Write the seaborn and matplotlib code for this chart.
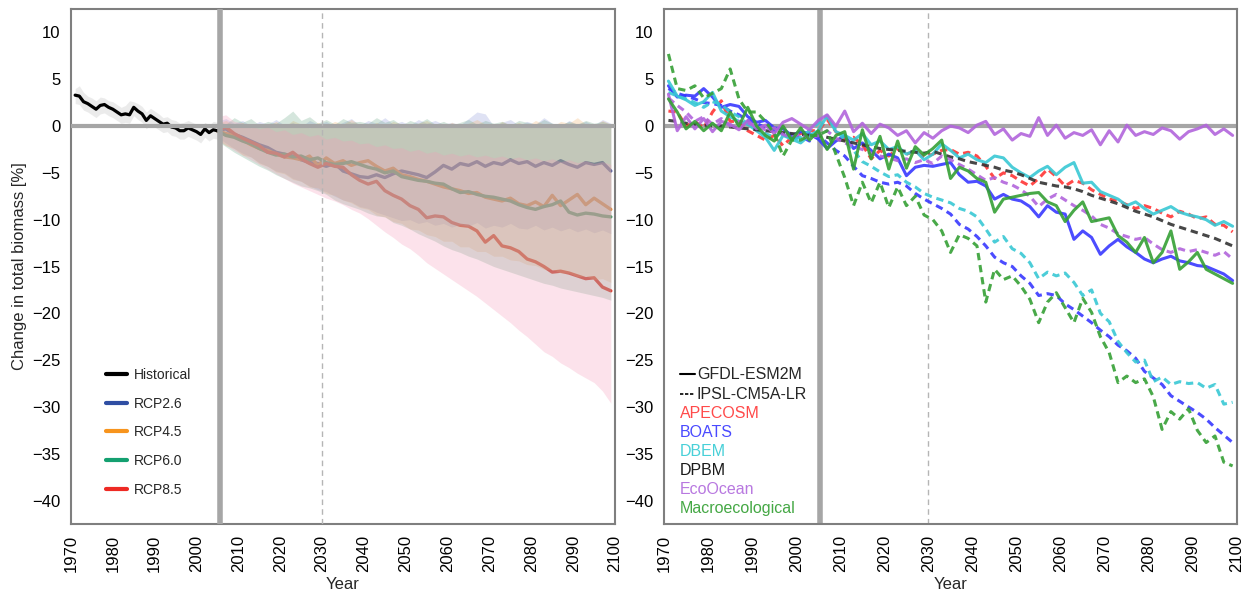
import numpy as np
import pandas as pd
import matplotlib
matplotlib.use("Agg")
import matplotlib.pyplot as plt
from matplotlib.lines import Line2D
import seaborn as sns

# --- LEFT PANEL: historical run + RCP scenario means and model ranges ---
HIST_YEARS = list(range(1971, 2006))
HIST = [3.3, 3.2, 2.6, 2.4, 2.1, 1.8, 2.2, 2.3, 2.0, 1.8,
        1.5, 1.2, 1.3, 1.2, 2.0, 1.6, 1.3, 0.6, 1.1, 0.8,
        0.5, 0.2, 0.3, -0.1, -0.2, -0.5, -0.5, -0.2, -0.4, -0.6,
        -0.9, -0.3, -0.7, -0.4, -0.5]
HIST_UP = [4.0, 4.3, 3.6, 3.2, 3.0, 2.7, 3.1, 3.0, 2.7, 2.6,
           2.3, 2.0, 2.2, 2.7, 2.6, 2.4, 2.1, 1.5, 1.9, 1.6,
           1.3, 0.9, 1.0, 0.7, 0.6, 0.3, 0.4, 0.6, 0.4, 0.2,
           -0.1, 0.4, 0.1, 0.5, 0.4]
HIST_LO = [2.4, 2.3, 1.7, 1.5, 1.2, 0.9, 1.3, 1.4, 1.1, 0.9,
           0.6, 0.3, 0.4, 0.3, 1.1, 0.7, 0.4, -0.3, 0.2, -0.1,
           -0.4, -0.7, -0.6, -1.0, -1.1, -1.4, -1.4, -1.1, -1.3, -1.5,
           -1.8, -1.2, -1.6, -1.3, -1.4]

RCP_YEARS = list(range(2005, 2100, 2))
SCENARIOS = ["RCP2.6", "RCP4.5", "RCP6.0", "RCP8.5"]

RCP26 = [-0.5, -0.3, -0.9, -1.2, -1.6, -2.0, -2.3, -2.8, -3.0, -3.2,
         -3.6, -3.9, -4.0, -4.3, -4.0, -4.8, -5.1, -5.4, -5.5, -5.2,
         -5.5, -5.1, -4.8, -5.0, -5.2, -5.5, -4.9, -4.2, -4.6, -4.0,
         -4.2, -3.8, -4.3, -3.9, -4.1, -3.6, -4.0, -3.8, -4.3, -3.9,
         -4.2, -3.7, -4.1, -4.4, -3.9, -4.1, -3.9, -4.8]
RCP45 = [-0.5, -0.8, -1.0, -1.5, -2.0, -2.4, -2.6, -3.0, -3.3, -3.4,
         -3.6, -3.2, -4.2, -3.4, -4.0, -3.7, -4.2, -3.9, -3.7, -4.3,
         -4.8, -4.5, -5.2, -5.4, -5.7, -5.9, -6.2, -6.5, -6.7, -6.9,
         -7.2, -7.1, -7.6, -7.8, -8.0, -7.7, -8.3, -8.5, -8.1, -8.6,
         -7.4, -8.5, -7.9, -7.3, -8.4, -7.7, -8.3, -8.9]
RCP60 = [-0.5, -1.0, -1.2, -1.6, -1.9, -2.4, -2.8, -3.1, -3.0, -3.3,
         -3.2, -3.6, -3.4, -3.9, -4.1, -4.0, -3.8, -4.1, -4.4, -4.6,
         -5.0, -4.8, -5.4, -5.6, -5.8, -5.9, -6.1, -6.2, -6.7, -7.1,
         -7.0, -7.3, -7.5, -7.6, -7.8, -8.0, -8.4, -8.7, -8.9, -8.6,
         -8.4, -8.0, -9.2, -9.5, -9.3, -9.4, -9.6, -9.7]
RCP85 = [-0.5, -0.1, -0.8, -1.3, -1.7, -2.1, -2.8, -2.9, -3.3, -2.8,
         -3.5, -4.0, -4.4, -4.0, -4.3, -4.4, -5.2, -5.8, -6.2, -5.9,
         -6.9, -7.4, -7.8, -8.5, -8.9, -9.8, -9.6, -9.7, -10.3, -10.6,
         -10.7, -11.2, -12.4, -11.7, -12.8, -13.0, -13.4, -14.2, -14.5, -15.0,
         -15.6, -15.5, -15.7, -16.0, -16.3, -16.2, -17.2, -17.6]

RCP26_UP = [0.5, 0.8, 0.3, 0.6, 0.0, 0.5, 0.2, 0.7, 0.1, 0.4,
            -0.1, 0.6, 0.2, 0.5, 0.0, 0.4, 0.8, 0.1, 0.6, 0.3,
            0.9, 0.2, 0.5, 0.1, 0.7, 0.3, 0.6, 0.2, 0.4, 0.1,
            0.8, 1.5, 1.3, 0.0, 0.4, 0.7, 0.1, 0.5, 0.2, 0.9,
            0.3, 0.0, 0.6, 0.2, 0.5, 0.1, 0.7, 0.3]
RCP26_LO = [-1.2, -1.8, -2.4, -2.9, -3.3, -3.9, -4.3, -4.8, -5.0, -5.6,
            -5.9, -6.4, -6.8, -7.0, -7.5, -7.9, -8.1, -8.6, -8.8, -9.2,
            -9.5, -9.8, -10.1, -10.0, -10.4, -10.2, -10.6, -10.4, -10.8, -10.5,
            -10.7, -10.3, -10.9, -10.6, -10.8, -10.4, -10.9, -11.0, -10.6, -11.1,
            -10.8, -11.2, -10.9, -11.3, -11.0, -11.4, -11.1, -11.5]
RCP45_UP = [0.3, 0.6, 0.1, 0.4, -0.2, 0.3, 0.0, 0.5, -0.1, 0.6,
            0.2, -0.2, 0.4, 0.0, 0.5, 0.2, 0.7, 0.1, -0.1, 0.4,
            0.0, 0.5, 0.2, -0.2, 0.3, 0.6, 0.1, -0.1, 0.4, 0.0,
            0.3, 0.7, 0.2, -0.1, 0.5, 0.1, 0.4, 0.0, 0.6, 0.2,
            -0.1, 0.5, 0.3, 0.9, 0.2, 0.0, 0.6, 0.2]
RCP45_LO = [-1.5, -2.1, -2.4, -3.1, -3.3, -4.0, -4.3, -4.9, -5.1, -5.7,
            -5.9, -6.5, -6.6, -7.2, -7.4, -7.9, -8.2, -8.7, -8.9, -9.5,
            -9.7, -10.2, -10.4, -11.0, -11.1, -11.6, -11.8, -12.3, -12.3, -12.9,
            -12.9, -13.4, -13.4, -13.9, -13.9, -14.3, -14.4, -14.8, -14.9, -15.3,
            -15.3, -15.7, -15.7, -16.1, -16.0, -16.4, -16.3, -16.7]
RCP60_UP = [0.6, 0.2, 0.9, 0.4, 0.8, 0.1, 0.5, 0.3, 0.9, 1.6,
            0.6, 1.0, 0.3, 0.7, 0.2, 0.8, 0.4, 0.5, 0.3, 0.9,
            0.4, 0.7, 0.1, 0.6, 0.3, 0.8, 0.2, 0.5, 0.1, 0.4,
            0.7, 0.2, 0.6, 0.3, 0.5, 0.1, 0.6, 0.4, 0.2, 0.7,
            0.3, 0.1, 0.5, 0.2, 0.6, 0.3, 0.5, 0.2]
RCP60_LO = [-1.6, -2.2, -2.8, -3.3, -3.8, -4.3, -4.7, -5.2, -5.6, -6.0,
            -6.4, -6.6, -6.9, -7.3, -7.9, -8.3, -8.6, -8.9, -9.3, -9.6,
            -9.7, -10.3, -10.6, -11.0, -11.5, -11.9, -12.3, -12.8, -13.2, -13.5,
            -13.9, -14.2, -14.6, -15.0, -15.3, -15.6, -15.9, -16.2, -16.5, -16.8,
            -17.0, -17.3, -17.5, -17.7, -17.9, -18.1, -18.3, -18.6]
RCP85_UP = [1.0, 1.2, 0.5, 0.3, 0.0, -0.3, -0.1, -0.6, -0.4, -0.9,
            -0.7, -1.1, -0.9, -1.4, -1.2, -1.6, -1.5, -1.9, -1.8, -2.2,
            -2.0, -2.4, -2.3, -2.7, -2.5, -2.9, -2.7, -3.1, -2.9, -3.2,
            -3.0, -3.3, -3.1, -3.4, -3.2, -3.5, -3.3, -3.6, -3.4, -3.7,
            -3.5, -3.8, -3.6, -3.9, -3.7, -4.0, -3.8, -4.1]
RCP85_LO = [-1.5, -2.0, -2.6, -3.1, -3.6, -4.1, -4.6, -5.1, -5.6, -6.1,
            -6.5, -6.9, -7.3, -7.7, -8.0, -8.4, -8.9, -9.3, -9.9, -10.6,
            -11.3, -11.9, -12.6, -13.1, -13.8, -14.6, -15.2, -15.8, -16.4, -17.0,
            -17.6, -18.2, -18.9, -19.6, -20.3, -21.0, -21.8, -22.5, -23.3, -24.1,
            -24.6, -25.3, -25.8, -26.4, -26.9, -27.4, -28.3, -29.6]

# --- RIGHT PANEL: individual ecosystem models under two earth system models ---
MODEL_YEARS = list(range(1971, 2100, 2))

ECOOCEAN_GFDL = [3.4, -0.5, 1.0, -0.3, 0.8, -0.6, 0.5, 0.2, -0.4, 0.6,
                 -0.3, 0.1, -0.8, 0.4, 0.8, 0.2, -0.4, 0.6, 1.2, 0.0,
                 1.6, -0.6, 0.3, -0.8, 0.2, -0.2, -1.0, -0.5, -1.8, -0.7,
                 -1.3, -0.5, 0.0, -0.2, -0.7, 0.1, 0.5, -0.9, -0.3, -1.5,
                 -0.8, -1.1, 0.9, -1.0, 0.1, -1.3, -0.7, -1.0, -0.4, -2.0,
                 -0.5, -1.7, 0.1, -1.0, -0.6, -0.9, -0.2, -0.5, -1.4, -0.6,
                 -0.3, 0.1, -0.9, -0.3, -1.0]
ECOOCEAN_IPSL = [3.0, 2.2, 1.5, 0.5, 1.0, 0.2, 0.8, 0.0, 0.5, 0.3,
                 0.0, -0.4, -0.2, -0.9, -1.2, -0.8, -1.4, -1.0, -0.5, -1.3,
                 -1.8, -2.2, -2.5, -2.9, -3.2, -3.4, -3.7, -3.5, -3.9, -3.6,
                 -4.0, -3.2, -3.6, -4.1, -4.6, -5.2, -5.8, -5.5, -6.0, -6.3,
                 -6.8, -7.5, -8.6, -7.8, -7.3, -7.9, -8.5, -9.0, -9.6, -10.5,
                 -10.9, -11.5, -11.8, -12.1, -11.9, -12.6, -13.2, -13.5, -13.1, -13.4,
                 -13.2, -13.5, -13.8, -13.4, -14.2]
DBEM_GFDL = [4.8, 3.2, 2.8, 2.2, 2.6, 3.6, 1.6, 1.0, 0.5, 0.2,
             -0.5, -1.2, -2.6, -1.0, -1.4, -1.8, -1.0, -0.5, 1.1, -0.6,
             -1.0, -1.5, -0.8, -2.0, -1.6, -2.5, -2.2, -3.0, -2.6, -3.6,
             -3.0, -1.9, -2.6, -3.4, -3.0, -3.6, -3.9, -3.2, -3.4, -4.4,
             -5.0, -5.5, -4.8, -4.3, -5.2, -4.4, -3.9, -6.1, -6.0, -7.0,
             -7.4, -7.8, -8.5, -8.1, -8.8, -9.4, -9.0, -8.6, -9.2, -9.5,
             -9.7, -10.0, -10.6, -10.2, -10.7]
DBEM_IPSL = [3.6, 3.2, 2.9, 2.5, 2.0, 2.6, 2.3, 1.5, 1.0, 0.2,
             -0.2, -0.8, -1.2, -0.6, -1.5, -1.2, -0.5, 0.3, 1.1, -0.4,
             -1.5, -2.6, -3.8, -4.3, -4.9, -5.4, -5.2, -6.0, -6.5, -7.2,
             -7.6, -7.9, -8.2, -8.8, -9.1, -9.7, -11.0, -12.4, -11.8, -13.1,
             -13.6, -14.6, -16.3, -15.6, -16.0, -15.7, -16.7, -18.1, -17.5, -20.0,
             -20.9, -23.0, -24.2, -25.2, -25.0, -27.3, -26.8, -27.6, -27.3, -27.5,
             -27.4, -28.0, -27.6, -29.7, -29.5]
BOATS_GFDL = [4.3, 3.1, 3.3, 3.2, 4.0, 3.1, 2.0, 2.3, 2.1, 1.0,
              0.4, 0.6, -0.2, -0.3, -1.0, -0.6, -0.8, -1.4, -2.4, -1.6,
              -1.0, -2.4, -1.8, -2.6, -3.5, -3.0, -3.4, -5.3, -4.4, -4.2,
              -4.3, -4.1, -3.9, -5.2, -6.0, -5.9, -6.4, -7.8, -7.3, -7.8,
              -8.0, -8.6, -9.7, -8.5, -9.2, -9.4, -12.1, -11.2, -11.9, -13.7,
              -12.8, -12.1, -12.9, -13.5, -14.2, -14.6, -14.2, -13.9, -14.4, -14.6,
              -14.9, -15.0, -15.4, -15.8, -16.5]
BOATS_IPSL = [4.0, 3.5, 3.2, 2.9, 2.5, 2.4, 2.2, 1.6, 1.2, 0.6,
              0.3, -0.2, -0.5, -0.9, -1.3, -1.1, -1.6, -1.0, -1.8, -2.6,
              -3.2, -4.3, -5.3, -5.6, -6.0, -6.2, -6.0, -6.4, -7.2, -7.8,
              -8.3, -8.8, -9.4, -10.5, -11.0, -11.8, -12.8, -14.0, -14.6, -15.0,
              -16.0, -16.8, -18.1, -17.9, -18.1, -19.0, -19.6, -20.3, -21.0, -21.8,
              -22.5, -23.4, -24.0, -24.8, -26.2, -26.9, -27.6, -28.8, -29.4, -30.0,
              -30.6, -31.3, -32.2, -33.0, -33.8]
MACRO_GFDL = [2.9, 1.5, -0.3, 0.5, -0.5, 0.3, -0.5, 1.5, 0.0, 2.0,
              0.0, -1.0, -1.6, 0.0, -1.5, -0.2, -1.5, -0.5, -2.5, -1.0,
              -0.6, -4.6, -0.4, -3.5, -1.1, -4.6, -1.6, -4.5, -2.2, -3.1,
              -2.4, -1.5, -5.6, -4.4, -4.8, -5.6, -6.0, -9.2, -7.8, -7.6,
              -7.4, -7.2, -7.1, -8.1, -8.5, -10.2, -9.0, -8.1, -10.2, -10.0,
              -9.8, -11.7, -12.4, -13.5, -11.9, -14.6, -13.5, -11.2, -15.3, -14.5,
              -13.5, -15.3, -15.8, -16.3, -16.8]
MACRO_IPSL = [7.7, 4.0, 3.8, 4.3, 3.0, 3.5, 4.0, 6.1, 2.9, 1.5,
              1.5, 0.5, -0.8, -3.2, -1.5, -1.5, -1.0, -1.0, -0.5, -3.0,
              -5.5, -8.5, -6.0, -8.2, -6.0, -8.7, -6.5, -8.5, -7.5, -9.5,
              -10.0, -11.2, -13.5, -11.6, -12.0, -12.8, -18.8, -15.3, -16.4, -16.0,
              -17.1, -18.5, -21.0, -18.8, -17.8, -19.4, -21.0, -18.4, -19.9, -22.5,
              -24.2, -27.4, -26.7, -27.4, -27.0, -28.9, -32.4, -30.5, -31.3, -30.2,
              -32.5, -33.8, -33.1, -35.9, -36.3]
APECOSM_IPSL = [1.6, 1.5, 0.0, 0.5, -0.2, 1.5, 2.7, 0.5, 0.5, -0.5,
                -1.0, -1.5, -1.0, -2.1, -1.2, -0.8, -0.5, -0.5, 0.7, -0.6,
                -1.5, -1.2, -2.0, -3.5, -2.6, -3.2, -2.4, -3.0, -2.7, -3.3,
                -3.0, -2.6, -2.5, -3.0, -2.8, -3.2, -4.3, -5.6, -5.0, -5.3,
                -5.9, -6.4, -5.6, -4.6, -5.4, -6.4, -5.8, -6.1, -6.8, -7.3,
                -7.8, -8.0, -8.4, -8.8, -8.5, -8.8, -9.3, -9.7, -9.1, -9.4,
                -9.9, -9.7, -10.5, -10.6, -11.3]
DPBM_IPSL = [0.6, 0.5, 0.3, 0.2, 0.1, 0.0, 0.0, -0.1, -0.2, -0.3,
             -0.4, -0.5, -0.6, -0.7, -0.8, -0.9, -1.0, -1.0, -1.2, -1.4,
             -1.6, -1.8, -2.0, -2.2, -2.4, -2.5, -2.6, -2.7, -2.8, -2.9,
             -2.7, -3.0, -3.3, -3.5, -3.8, -4.0, -4.2, -4.4, -4.7, -4.9,
             -5.2, -5.6, -6.0, -6.2, -6.4, -6.5, -6.7, -7.0, -7.4, -7.7,
             -8.0, -8.3, -8.7, -9.1, -9.4, -9.7, -10.1, -10.5, -10.8, -11.1,
             -11.4, -11.7, -12.0, -12.4, -12.8]

MODELS = ["APECOSM", "BOATS", "DBEM", "DPBM", "EcoOcean", "Macroecological"]
GCMS = ["GFDL-ESM2M", "IPSL-CM5A-LR"]

RCP_LINE_COLORS = {"RCP2.6": "#45519a", "RCP4.5": "#ea8530",
                   "RCP6.0": "#3d9660", "RCP8.5": "#e0392b"}
RCP_LEGEND_COLORS = {"RCP2.6": "#2f4ea3", "RCP4.5": "#f7941d",
                     "RCP6.0": "#14a070", "RCP8.5": "#ee2a24"}
RCP_BAND_COLORS = {"RCP2.6": "#8d9ad8", "RCP4.5": "#f4b36a",
                   "RCP6.0": "#6aa886", "RCP8.5": "#f59ab8"}
MODEL_COLORS = {"APECOSM": "#ff3535", "BOATS": "#3838ff", "DBEM": "#38c8d4",
                "DPBM": "#333333", "EcoOcean": "#b265dc", "Macroecological": "#35a035"}
MODEL_TEXT_COLORS = {"APECOSM": "#ff4a4a", "BOATS": "#4a4aff", "DBEM": "#48d0d8",
                     "DPBM": "#1a1a1a", "EcoOcean": "#b878e0", "Macroecological": "#45a845"}

GRID_GREY = "#a6a6a6"
SPINE_GREY = "#7f7f7f"


def long_frame(years, series, columns):
    parts = []
    for key, values in series.items():
        part = pd.DataFrame({"Year": years, "Change": values})
        for col, val in zip(columns, key if isinstance(key, tuple) else (key,)):
            part[col] = val
        parts.append(part)
    return pd.concat(parts, ignore_index=True)


def style_axes(ax):
    ax.set_xlim(1970, 2100)
    ax.set_ylim(-42.5, 12.5)
    ax.set_xticks(range(1970, 2101, 10))
    ax.set_yticks(range(-40, 11, 5))
    ax.tick_params(axis="x", rotation=90)
    ax.tick_params(colors=SPINE_GREY, labelcolor="black", labelsize=12,
                   length=4, width=1.3)
    for sp in ax.spines.values():
        sp.set_color(SPINE_GREY)
        sp.set_linewidth(1.5)
    ax.set_xlabel("Year", fontsize=12)
    ax.set_ylabel("")


def reference_lines(ax, z):
    ax.axhline(0, color=GRID_GREY, lw=3.0, zorder=z)
    ax.axvline(2005.5, color=GRID_GREY, lw=4.0, zorder=z)
    ax.axvline(2030, color="#b5b5b5", lw=1.0, ls=(0, (4, 3)), zorder=z)


def left_panel(ax):
    df = long_frame(RCP_YEARS, {"RCP2.6": RCP26, "RCP4.5": RCP45,
                                "RCP6.0": RCP60, "RCP8.5": RCP85}, ["Scenario"])
    sns.lineplot(data=df, x="Year", y="Change", hue="Scenario", palette=RCP_LINE_COLORS,
                 linewidth=2.4, errorbar=None, legend=False, ax=ax, zorder=2)

    # ranges sit on top of the means, that is how the original looks
    bands = {"RCP2.6": (RCP26_LO, RCP26_UP), "RCP4.5": (RCP45_LO, RCP45_UP),
             "RCP6.0": (RCP60_LO, RCP60_UP), "RCP8.5": (RCP85_LO, RCP85_UP)}
    for name, (lo, up) in bands.items():
        ax.fill_between(RCP_YEARS, lo, up, color=RCP_BAND_COLORS[name], alpha=0.28,
                        linewidth=0, zorder=2.5)

    ax.fill_between(HIST_YEARS, HIST_LO, HIST_UP, color="#c8c8c8", alpha=0.35,
                    linewidth=0, zorder=1.5)
    sns.lineplot(x=HIST_YEARS, y=HIST, color="black", linewidth=2.3, ax=ax, zorder=3)

    reference_lines(ax, 4)
    style_axes(ax)
    ax.set_ylabel("Change in total biomass [%]", fontsize=12)

    handles = [Line2D([0], [0], color="black", lw=3)]
    handles += [Line2D([0], [0], color=RCP_LEGEND_COLORS[s], lw=3) for s in SCENARIOS]
    ax.legend(handles, ["Historical"] + SCENARIOS, loc="upper left",
              bbox_to_anchor=(0.055, 0.314), frameon=False, fontsize=10,
              handlelength=1.5, handletextpad=0.45, labelspacing=1.06,
              borderaxespad=0)


def right_panel(ax):
    series = {("APECOSM", "IPSL-CM5A-LR"): APECOSM_IPSL,
              ("BOATS", "GFDL-ESM2M"): BOATS_GFDL,
              ("BOATS", "IPSL-CM5A-LR"): BOATS_IPSL,
              ("DBEM", "GFDL-ESM2M"): DBEM_GFDL,
              ("DBEM", "IPSL-CM5A-LR"): DBEM_IPSL,
              ("DPBM", "IPSL-CM5A-LR"): DPBM_IPSL,
              ("EcoOcean", "GFDL-ESM2M"): ECOOCEAN_GFDL,
              ("EcoOcean", "IPSL-CM5A-LR"): ECOOCEAN_IPSL,
              ("Macroecological", "GFDL-ESM2M"): MACRO_GFDL,
              ("Macroecological", "IPSL-CM5A-LR"): MACRO_IPSL}
    df = long_frame(MODEL_YEARS, series, ["Model", "GCM"])

    reference_lines(ax, 1.5)
    sns.lineplot(data=df, x="Year", y="Change", hue="Model", style="GCM",
                 hue_order=MODELS, style_order=GCMS, palette=MODEL_COLORS,
                 dashes={"GFDL-ESM2M": "", "IPSL-CM5A-LR": (2.4, 1.6)},
                 linewidth=2.2, alpha=0.9, errorbar=None, legend=False, ax=ax)
    style_axes(ax)

    gcm_handles = [Line2D([0], [0], color="black", lw=1.5),
                   Line2D([0], [0], color="black", lw=1.2, ls=(0, (2, 1)))]
    leg = ax.legend(gcm_handles, GCMS, loc="upper left", bbox_to_anchor=(0.017, 0.317),
                    frameon=False, fontsize=11.5, handlelength=0.9, handletextpad=0.15,
                    labelspacing=0.33, borderaxespad=0)
    ax.add_artist(leg)

    blank = [Line2D([0], [0], color="none") for _ in MODELS]
    ax.legend(blank, MODELS, loc="upper left", bbox_to_anchor=(0.017, 0.241),
              frameon=False, fontsize=11.5, handlelength=0, handletextpad=0,
              labelspacing=0.25, borderaxespad=0,
              labelcolor=[MODEL_TEXT_COLORS[m] for m in MODELS])


def main():
    sns.set_style("white")
    plt.rcParams["font.family"] = ["Liberation Sans", "DejaVu Sans"]

    fig = plt.figure(figsize=(12.47, 5.97), dpi=100)
    ax_l = fig.add_axes([0.0569, 0.1223, 0.4363, 0.8626])
    ax_r = fig.add_axes([0.5325, 0.1223, 0.4595, 0.8626])

    left_panel(ax_l)
    right_panel(ax_r)

    fig.savefig("out.png", dpi=100, facecolor="white")
    plt.close(fig)


if __name__ == "__main__":
    main()
